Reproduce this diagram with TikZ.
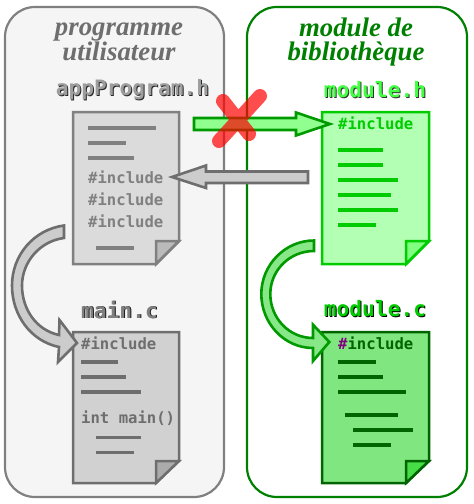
\documentclass[tikz,border=0pt]{standalone}
\usepackage{fontspec}
\setmonofont{DejaVu Sans Mono}
\setmainfont{Liberation Serif}
\newcommand\shadowed[3]{\leavevmode\rlap{\kern1pt\raisebox{-.9pt}{\textcolor{#2}{#3}}}\textcolor{#1}{#3}}
\tikzset{
  x=1pt,y=-1pt,
  panel/.style={rounded corners=30pt,line width=2.2pt},
  doc/.style={line width=2.5pt,line join=miter},
  rule/.style={line width=3.6pt},
  arrowshape/.style={line width=2.6pt,line join=miter},
  code/.style={font=\ttfamily\bfseries\fontsize{15.6}{18}\selectfont,anchor=west,inner sep=0pt},
  fname/.style={font=\ttfamily\bfseries\fontsize{21.2}{24}\selectfont,inner sep=0pt},
  ttl/.style={font=\rmfamily\bfseries\itshape\fontsize{26.8}{24.5}\selectfont,align=center,inner sep=0pt},
}
\definecolor{gA}{HTML}{808080}\definecolor{gB}{HTML}{6E6E6E}
\definecolor{grA}{HTML}{00CC00}\definecolor{grB}{HTML}{006400}
\definecolor{pan}{HTML}{F5F5F5}\definecolor{pur}{HTML}{800080}
\begin{document}
\begin{tikzpicture}
\useasboundingbox (0,0) rectangle (474,504);
\fill[white] (0,0) rectangle (474,504);
% panels
\draw[panel,draw=gA,fill=pan] (5,7) rectangle (224,497);
\draw[panel,draw=green!50!black,fill=white] (247,7) rectangle (467,497);
\node[ttl,text=gB] (t1) at (119,42) {programme\\utilisateur};
\node[ttl,text=green!50!black] (t2) at (356,42) {module de\\bibliothèque};
% file names
\node[fname] (f1) at (132.5,90) {\shadowed{black!38}{black!85}{appProgram.h}};
\node[fname] (f2) at (375,90) {\shadowed{green!75!white}{black!80}{module.h}};
\node[fname] (f3) at (119.5,310) {\shadowed{black!50}{black!90}{main.c}};
\node[fname] (f4) at (375,309) {\shadowed{grA}{black}{module.c}};
% doc 1
\draw[doc,draw=gA,fill=black!14] (73,112) -- (179,112) -- (179,241) -- (156,264) -- (73,264) -- cycle;
\draw[doc,draw=gA,fill=black!27] (156,264) -- (156,241) -- (179,241) -- cycle;
\foreach \a/\b/\y in {88/156/128,88/126/143,88/134/158,96/134/248}\draw[rule,gA] (\a,\y) -- (\b,\y);
\foreach \y in {177,199,221}\node[code,text=gA] at (88,\y) {\#include};
% doc 2
\draw[doc,draw=gB,fill=black!18] (73,332) -- (179,332) -- (179,461) -- (156,483) -- (73,483) -- cycle;
\draw[doc,draw=gB,fill=black!33] (156,483) -- (156,461) -- (179,461) -- cycle;
\foreach \a/\b/\y in {81/118/362,81/126/377,81/141/392,96/141/437.5,96/134/452.5}\draw[rule,gB] (\a,\y) -- (\b,\y);
\node[code,text=gB] at (81,343) {\#include};
\node[code,text=gB] at (81,418) {int main()};
% doc 3
\draw[doc,draw=grA,fill={rgb,255:red,179;green,255;blue,179}] (322,112) -- (429,112) -- (429,241) -- (406,264) -- (322,264) -- cycle;
\draw[doc,draw=grA,fill={rgb,255:red,128;green,255;blue,128}] (406,264) -- (406,241) -- (429,241) -- cycle;
\foreach \a/\b/\y in {338/383/150,338/383/165,338/398/180,338/391/195,338/398/210,338/376/225}\draw[rule,grA] (\a,\y) -- (\b,\y);
\node[code,text=grA] at (338,123) {\#include};
% doc 4
\draw[doc,draw=grB,fill={rgb,255:red,128;green,230;blue,128}] (322,332) -- (429,332) -- (429,461) -- (406,483) -- (322,483) -- cycle;
\draw[doc,draw=grB,fill={rgb,255:red,70;green,221;blue,70}] (406,483) -- (406,461) -- (429,461) -- cycle;
\foreach \a/\b/\y in {338/376/362,338/383/377,338/406/392,345/398/415,353/413/430,353/391/445}\draw[rule,grB] (\a,\y) -- (\b,\y);
\node[code,text=grB] at (338,343) {\textcolor{pur}{\#}include};
% arrows
\draw[arrowshape,draw=green!60!black,fill={rgb,255:red,144;green,255;blue,144}] (194,118) -- (296,118) -- (296,112.5) -- (330,124) -- (296,135.5) -- (296,130) -- (194,130) -- cycle;
\draw[arrowshape,draw=gB,fill=black!20] (308,171.5) -- (206,171.5) -- (206,165.5) -- (172,177) -- (206,188) -- (206,183) -- (308,183) -- cycle;
\draw[arrowshape,draw=gB,fill=black!20] (64,225.5) .. controls (34,229.5) and (12,255) .. (12,285.5) .. controls (12,315) and (30.5,341) .. (59,347) -- (58,362) -- (77,343) -- (59.5,320) -- (59,335) .. controls (36,330) and (22,309) .. (22,285.5) .. controls (22,262) and (40,241) .. (64,238) -- cycle;
\draw[arrowshape,draw=green!60!black,fill={rgb,255:red,136;green,232;blue,136}] (314,240.5) .. controls (285,240.5) and (261.3,265) .. (261.3,294) .. controls (261.3,323) and (284,348) .. (313,348) -- (313,361) -- (329.3,342) -- (313,324.7) -- (313,338) .. controls (289,338) and (270.3,318) .. (270.3,294) .. controls (270.3,270) and (290,251) .. (314,251) -- cycle;
% cross
\draw[red,opacity=.7,line width=14pt,line cap=round] (223,101) -- (249,134) (260,96) -- (219,141);
\end{tikzpicture}
\end{document}
